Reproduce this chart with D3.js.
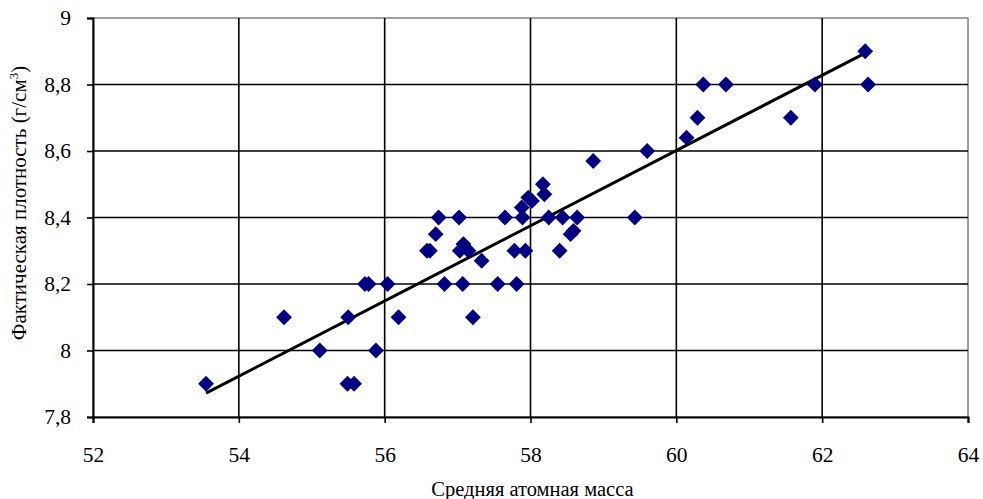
<!DOCTYPE html>
<html><head><meta charset="utf-8">
<script src="https://cdn.jsdelivr.net/npm/d3@7"></script>
<style>body{margin:0;background:#fff}svg{display:block}</style>
</head><body>
<svg id="c" width="983" height="499"></svg>
<script>
const massValues = [53.55,54.62,55.11,55.50,55.49,55.58,55.73,55.78,55.88,56.04,56.19,56.58,56.62,56.70,56.74,56.82,57.02,57.03,57.08,57.15,57.07,57.21,57.33,57.55,57.65,57.78,57.81,57.89,57.93,57.88,57.97,58.02,58.17,58.19,58.25,58.40,58.44,58.55,58.59,58.64,58.86,59.43,59.60,60.14,60.29,60.37,60.68,61.57,61.90,62.59,62.63];
const densityValues = [7.9,8.1,8.0,8.1,7.9,7.9,8.2,8.2,8.0,8.2,8.1,8.3,8.3,8.35,8.4,8.2,8.4,8.3,8.32,8.3,8.2,8.1,8.27,8.2,8.4,8.3,8.2,8.4,8.3,8.43,8.46,8.45,8.5,8.47,8.4,8.3,8.4,8.35,8.36,8.4,8.57,8.4,8.6,8.64,8.7,8.8,8.8,8.7,8.8,8.9,8.8];
const xTicks = [52,54,56,58,60,62,64];
const yTicks = [7.8,8.0,8.2,8.4,8.6,8.8,9.0];
const xTitle = "Средняя атомная масса";
const yTitle = "Фактическая плотность (г/см";

const svg = d3.select("#c");
const L = 93, R = 968, T = 18, B = 417;
const x = d3.scaleLinear().domain([52,64]).range([L,R]);
const y = d3.scaleLinear().domain([7.8,9]).range([B,T]);
const fmt = v => String(+v.toFixed(1)).replace(".", ",");
const font = "'Liberation Serif','Times New Roman',serif";

// frame (top/right gray)
svg.append("rect").attr("x",L).attr("y",T).attr("width",R-L).attr("height",B-T)
  .attr("fill","#fff").attr("stroke","#808080").attr("stroke-width",1.5);

// gridlines
svg.append("g").selectAll("line").data(yTicks.slice(1,-1)).join("line")
  .attr("x1",L).attr("x2",R).attr("y1",d=>y(d)).attr("y2",d=>y(d))
  .attr("stroke","#000").attr("stroke-width",1.6);
svg.append("g").selectAll("line").data(xTicks.slice(1,-1)).join("line")
  .attr("y1",T).attr("y2",B).attr("x1",d=>x(d)).attr("x2",d=>x(d))
  .attr("stroke","#000").attr("stroke-width",1.6);

// axes
const xAxis = d3.axisBottom(x).tickValues(xTicks).tickSize(6).tickPadding(24).tickFormat(d=>d);
const gx = svg.append("g").attr("transform",`translate(0,${B})`).call(xAxis);
const yAxis = d3.axisLeft(y).tickValues(yTicks).tickSize(6).tickPadding(16).tickFormat(fmt);
const gy = svg.append("g").attr("transform",`translate(${L},0)`).call(yAxis);
[gx,gy].forEach(g=>{
  g.select(".domain").attr("stroke","#000").attr("stroke-width",2);
  g.selectAll(".tick line").attr("stroke","#000").attr("stroke-width",1.6);
  g.selectAll("text").attr("font-family",font).attr("font-size",21.5).attr("fill","#000");
});

// trend line (least squares)
const n = massValues.length;
const mx = d3.mean(massValues), my = d3.mean(densityValues);
let sxy=0, sxx=0;
for (let i=0;i<n;i++){ sxy += (massValues[i]-mx)*(densityValues[i]-my); sxx += (massValues[i]-mx)**2; }
const slope = sxy/sxx, icpt = my - slope*mx;
const x0 = d3.min(massValues), x1 = d3.max(massValues);
svg.append("line").attr("x1",x(x0)).attr("y1",y(icpt+slope*x0))
  .attr("x2",x(x1)).attr("y2",y(icpt+slope*x1))
  .attr("stroke","#000").attr("stroke-width",3);

// points
const sym = d3.symbol().type(d3.symbolDiamond2).size(160);
svg.append("g").selectAll("path").data(massValues.map((m,i)=>[m,densityValues[i]])).join("path")
  .attr("d",sym).attr("transform",d=>`translate(${x(d[0])},${y(d[1])})`)
  .attr("fill","#000080");

// titles
svg.append("text").attr("x",(L+R)/2+2).attr("y",496).attr("text-anchor","middle")
  .attr("font-family",font).attr("font-size",20.5).text(xTitle);
const yt = svg.append("text").attr("transform","translate(26,203) rotate(-90)")
  .attr("text-anchor","middle").attr("font-family",font).attr("font-size",21);
yt.append("tspan").text(yTitle);
yt.append("tspan").attr("font-size",13).attr("dy",-8).text("3");
yt.append("tspan").attr("dy",8).text(")");
</script>
</body></html>
